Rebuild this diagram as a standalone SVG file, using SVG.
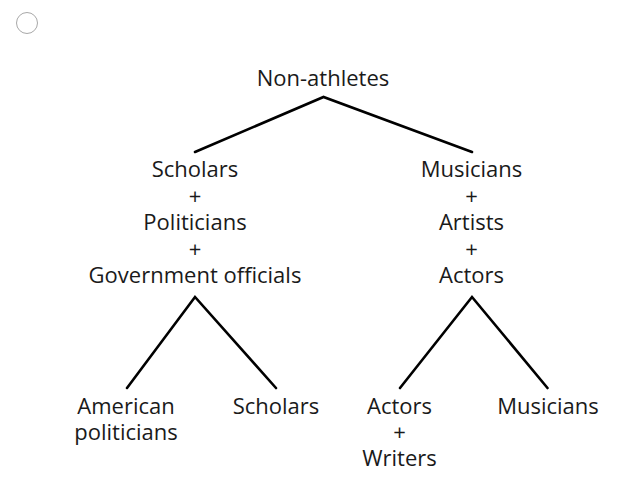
<svg xmlns="http://www.w3.org/2000/svg" width="636" height="491" viewBox="0 0 636 491">
<style>
text{font-family:"Open Sans","Liberation Sans",sans-serif;font-size:22px;fill:#1a1a1a;text-anchor:middle}
.edge{stroke:#000;stroke-width:2.6;fill:none;stroke-linecap:round}
</style>
<rect width="636" height="491" fill="#fff"/>
<circle cx="27" cy="23" r="10.5" fill="#fff" stroke="#a8a8a8" stroke-width="1"/>
<g id="connectors">
<polyline class="edge" points="195,152 323.5,97 472,152"/>
<polyline class="edge" points="127,388 195,297 276,388"/>
<polyline class="edge" points="400,388 472,297 547.5,388"/>
</g>
<g id="root"><text x="323" y="86">Non-athletes</text></g>
<g id="left-mid">
<text x="195" y="177">Scholars</text>
<text x="195" y="203.5">+</text>
<text x="195" y="230">Politicians</text>
<text x="195" y="256.5">+</text>
<text x="195" y="283">Government officials</text>
</g>
<g id="right-mid">
<text x="471.5" y="177">Musicians</text>
<text x="471.5" y="203.5">+</text>
<text x="471.5" y="230">Artists</text>
<text x="471.5" y="256.5">+</text>
<text x="471.5" y="283">Actors</text>
</g>
<g id="leaf-american"><text x="126" y="413.5">American</text><text x="126" y="440">politicians</text></g>
<g id="leaf-scholars"><text x="276" y="413.5">Scholars</text></g>
<g id="leaf-actors"><text x="399.5" y="413.5">Actors</text><text x="399.5" y="440">+</text><text x="399.5" y="466">Writers</text></g>
<g id="leaf-musicians"><text x="548" y="413.5">Musicians</text></g>
</svg>
